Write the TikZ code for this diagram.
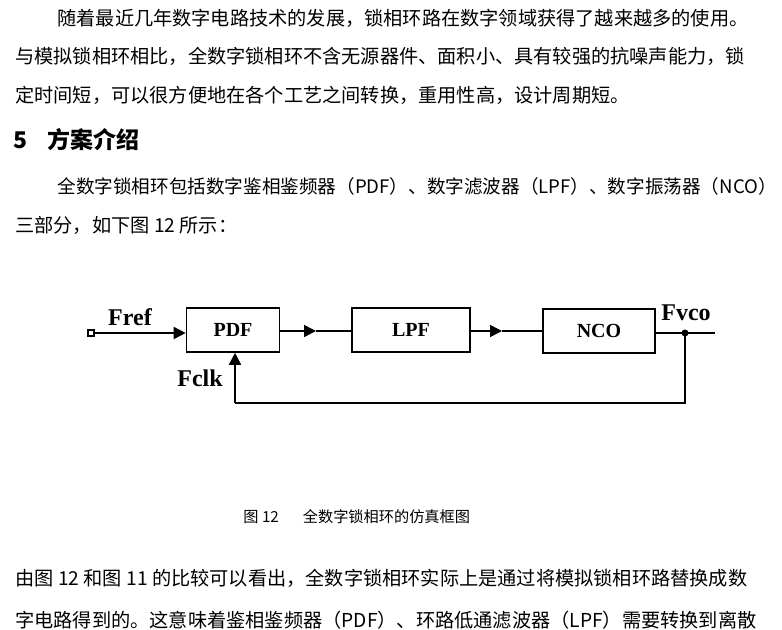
\documentclass[tikz,border=0pt]{standalone}
\usepackage{fontspec}
\setmainfont{Liberation Serif}
\newfontfamily\cjk{Noto Sans CJK SC}
\usetikzlibrary{arrows.meta}
\tikzset{
  para/.style={anchor=west, inner sep=0pt, font=\cjk\fontsize{9.6}{11}\selectfont},
  blk/.style={draw, thick, minimum height=22pt, inner sep=0pt, font=\bfseries\fontsize{10}{12}\selectfont},
  lbl/.style={inner sep=0pt, font=\bfseries\fontsize{12}{14}\selectfont},
  sig/.style={thick, -{Triangle[length=6pt,width=6pt]}},
}
\begin{document}
\begin{tikzpicture}[x=0.5pt, y=-0.5pt]
  \fill[white] (0,0) rectangle (782,630);
  \useasboundingbox (0,0) rectangle (782,630);
  % text above
  \node[para] (l1) at (57,18) {随着最近几年数字电路技术的发展，锁相环路在数字领域获得了越来越多的使用。};
  \node[para] (l2) at (15,56) {与模拟锁相环相比，全数字锁相环不含无源器件、面积小、具有较强的抗噪声能力，锁};
  \node[para] (l3) at (15,95) {定时间短，可以很方便地在各个工艺之间转换，重用性高，设计周期短。};
  \node[anchor=west, inner sep=0pt, font=\cjk\bfseries\fontsize{11.5}{13}\selectfont] (hd) at (13,140) {5\hspace{10pt}方案介绍};
  \node[para, font=\cjk\fontsize{9.3}{11}\selectfont] (l5) at (57,186) {全数字锁相环包括数字鉴相鉴频器（PDF）、数字滤波器（LPF）、数字振荡器（NCO）};
  \node[para] (l6) at (15,225) {三部分，如下图 12 所示：};
  % block diagram
  \node[blk, minimum width=46.5pt] (pdf) at (233,330) {PDF};
  \node[blk, minimum width=59pt] (lpf) at (411,330) {LPF};
  \node[blk, minimum width=56pt] (nco) at (599,331) {NCO};
  \node[draw, thick, minimum size=3pt, inner sep=0pt] (in) at (91,333) {};
  \coordinate (a1) at (316,331);
  \coordinate (a2) at (502,331);
  \coordinate (out) at (715,333);
  \fill (685,333) circle (3.5) coordinate (tap);
  \coordinate (c1) at (685,403);
  \coordinate (c2) at (235,403);
  \node[lbl] (fref) at (130,317) {Fref};
  \node[lbl] (fvco) at (686,313) {Fvco};
  \node[lbl] (fclk) at (200,378) {Fclk};
  \draw[sig] (in.east) -- (pdf.west |- in.east);
  \draw[sig] (pdf.east |- a1) -- (a1);
  \draw[thick] (a1) -- (lpf.west |- a1);
  \draw[sig] (lpf.east |- a2) -- (a2);
  \draw[thick] (a2) -- (nco.west |- a2);
  \draw[thick] (nco.east |- out) -- (out);
  \draw[thick] (tap) -- (c1) -- (c2);
  \draw[sig] (c2) -- (c2 |- pdf.south);
  % caption and text below
  \node[anchor=west, inner sep=0pt, font=\cjk\fontsize{7.6}{9}\selectfont] (cap) at (243,517) {图 12\hspace{12pt}全数字锁相环的仿真框图};
  \node[para] (l7) at (15,578) {由图 12 和图 11 的比较可以看出，全数字锁相环实际上是通过将模拟锁相环路替换成数};
  \node[para] (l8) at (15,620) {字电路得到的。这意味着鉴相鉴频器（PDF）、环路低通滤波器（LPF）需要转换到离散};
\end{tikzpicture}
\end{document}
